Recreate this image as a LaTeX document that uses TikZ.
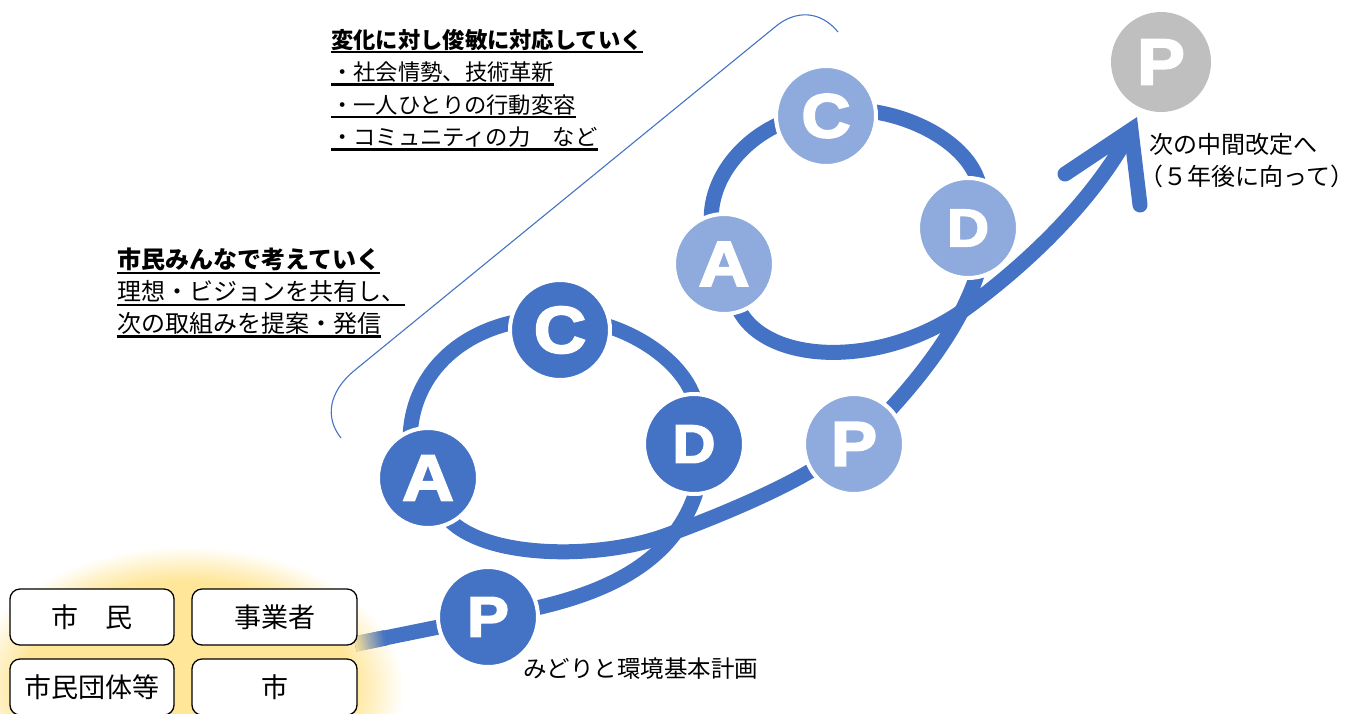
\documentclass[tikz,border=0pt]{standalone}
\usepackage{fontspec}
\usetikzlibrary{calc}
\newfontfamily\jp{Noto Sans CJK JP}
\newfontfamily\heavy{Liberation Sans Bold}[FakeBold=3,FakeStretch=1.1]
\newcommand\myLF[1]{\heavy\fontsize{#1}{#1}\selectfont}
\definecolor{blu}{HTML}{4472C4}
\definecolor{lblu}{HTML}{8FAADC}
\definecolor{gry}{HTML}{BFBFBF}
\definecolor{glowc}{HTML}{FFE699}
\pgfdeclareradialshading{glow}{\pgfpoint{0bp}{0bp}}{color(0bp)=(glowc);color(19bp)=(glowc);color(25bp)=(white);color(50bp)=(white)}
\pgfdeclarelayer{bg}
\pgfsetlayers{bg,main}
\begin{document}
\begin{tikzpicture}[x=1pt,y=-1pt,
  spiral/.style={draw=blu, line width=15pt, line cap=butt},
  dark/.style={circle, fill=blu, draw=white, line width=4pt, minimum size=100pt, inner sep=0pt, text=white},
  light/.style={dark, fill=lblu},
  grayc/.style={dark, fill=gry, draw=none},
  box/.style={draw=black, line width=1.3pt, rounded corners=10pt, fill=white, minimum height=56pt, inner sep=0pt, font=\jp\fontsize{27}{27}\selectfont},
  txa/.style={anchor=base west, inner sep=0pt, font=\jp\fontsize{22.3}{26}\selectfont},
  txab/.style={anchor=base west, inner sep=0pt, font=\jp\bfseries\fontsize{22.3}{26}\selectfont},
  txb/.style={anchor=base west, inner sep=0pt, font=\jp\fontsize{24}{28}\selectfont},
  txbb/.style={anchor=base west, inner sep=0pt, font=\jp\bfseries\fontsize{24}{28}\selectfont},
  lab/.style={anchor=base west, inner sep=0pt, font=\jp\fontsize{23.5}{28}\selectfont},
  ul/.style={draw=black, line width=2.5pt},
  bracket/.style={draw=blu, line width=1.1pt}
]
\useasboundingbox (0,0) rectangle (1356,713);

% boxes
\node[box, minimum width=164pt] (b1) at (92,617) {市　民};
\node[box, minimum width=165pt] (b2) at (274.5,617) {事業者};
\node[box, minimum width=164pt] (b3) at (92,687) {市民団体等};
\node[box, minimum width=165pt] (b4) at (274.5,687) {市};

% circles
\node[dark, font=\myLF{66}] (C1) at (560,330) {C};
\node[dark, font=\myLF{54}] (D1) at (694,444) {D};
\node[dark, font=\myLF{65}] (A1) at (428,478) {A};
\node[dark, font=\myLF{57}] (P1) at (488,617) {P};
\node[light, font=\myLF{62}] (C2) at (826,116) {C};
\node[light, font=\myLF{53}] (D2) at (968,228) {D};
\node[light, font=\myLF{64}] (A2) at (724,264) {A};
\node[light, font=\myLF{63}] (P2) at (854,444) {P};
\node[grayc, font=\myLF{65}] (P3) at (1161,62) {P};

\coordinate (s0) at (355,644);
\coordinate (V) at (1131,130);
\coordinate (a1) at (1065,174);
\coordinate (a2) at (1140,205);
\coordinate (x1) at (667,535);
\coordinate (x2) at (968,307);

\begin{pgfonlayer}{bg}
\shade[shading=glow] (186,688) ellipse [x radius=218pt, y radius=142pt];
\draw[spiral] (s0) -- (P1.center);
\foreach \i in {0,...,11}{
  \pgfmathtruncatemacro\p{8+\i*8}
  \draw[line width=15.6pt, draw=blu!\p!glowc] ($(s0)!{\i*0.019}!(P1.center)$) -- ($(s0)!{(\i+1)*0.019+0.004}!(P1.center)$);
}
\draw[spiral] (P1.center) .. controls (600,600) and (680,565) .. (700,478) -- (D1.center);
\draw[spiral] (D1.center) -- (697,410) .. controls (690,360) and (620,318) .. (560,318) -- (C1.center);
\draw[spiral] (C1.center) -- (560,318) .. controls (470,316) and (408,370) .. (410,445) -- (A1.center);
\draw[spiral] (A1.center) -- (445,515) .. controls (480,560) and (600,560) .. (x1) .. controls (730,512) and (790,485) .. (820,465) -- (P2.center);
\draw[spiral] (P2.center) -- (885,415) .. controls (925,372) and (965,320) .. (980,265) -- (D2.center);
\draw[spiral] (D2.center) -- (980,190) .. controls (975,150) and (920,115) .. (860,110) -- (C2.center);
\draw[spiral] (C2.center) -- (790,120) .. controls (745,135) and (705,180) .. (712,230) -- (A2.center);
\draw[spiral] (A2.center) -- (735,300) .. controls (755,365) and (880,372) .. (x2) .. controls (1040,254) and (1100,190) .. (V);
\draw[spiral, line cap=round, line join=miter] (a1) -- (V) -- (a2);
\end{pgfonlayer}

% thin bracket
\draw[bracket] (838,32) .. controls (820,10) and (795,10) .. (775,27) -- (355,370) .. controls (328,392) and (325,418) .. (341,438);

% text block 1
\node[txab] (h1) at (331,48) {変化に対し俊敏に対応していく};
\node[txa] (h2) at (331,80.5) {・社会情勢、技術革新};
\node[txa] (h3) at (331,113) {・一人ひとりの行動変容};
\node[txa] (h4) at (331,145.5) {・コミュニティの力　など};
\foreach \n in {h1,h2,h3,h4}{\draw[ul] ([yshift=-4pt]\n.base west) -- ([yshift=-4pt]\n.base east);}

% text block 2
\node[txbb] (g1) at (117,268.5) {市民みんなで考えていく};
\node[txb] (g2) at (117,300.5) {理想・ビジョンを共有し、};
\node[txb] (g3) at (117,332) {次の取組みを提案・発信};
\foreach \n in {g1,g2,g3}{\draw[ul] ([yshift=-4.5pt]\n.base west) -- ([yshift=-4.5pt]\n.base east);}

% labels
\node[lab] (l1) at (523,677) {みどりと環境基本計画};
\node[txb] (r1) at (1149,153) {次の中間改定へ};
\node[txb] (r2) at (1139,185) {（５年後に向って）};
\end{tikzpicture}
\end{document}
